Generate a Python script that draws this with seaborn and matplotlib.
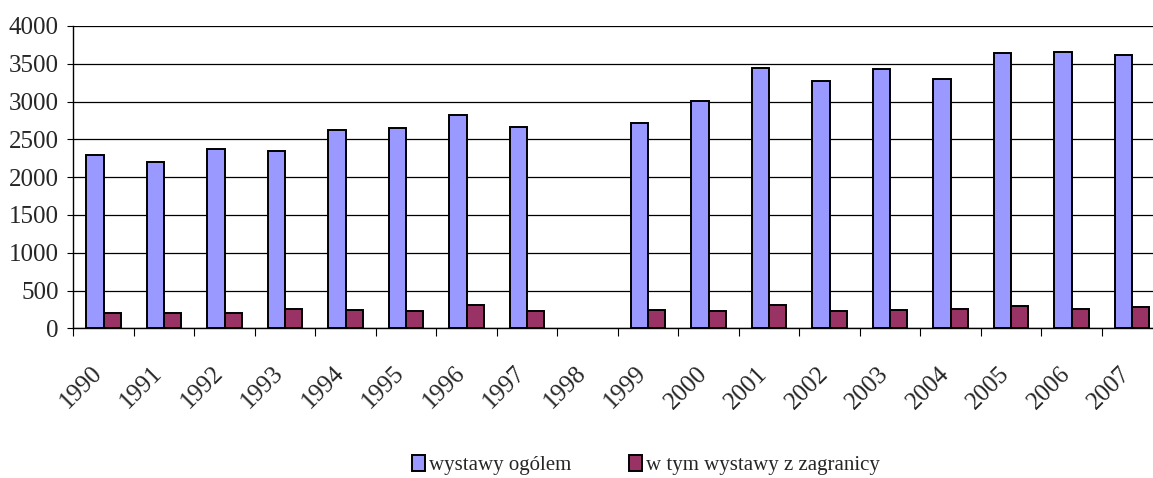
import numpy as np
import pandas as pd
import matplotlib
matplotlib.use('Agg')
import matplotlib.pyplot as plt
import matplotlib.transforms as mtransforms
from matplotlib.ticker import MultipleLocator, FixedLocator
import seaborn as sns

# data (1998: no data)
years = [1990, 1991, 1992, 1993, 1994, 1995, 1996, 1997, 1998,
         1999, 2000, 2001, 2002, 2003, 2004, 2005, 2006, 2007]
total = [2290, 2195, 2370, 2345, 2630, 2645, 2825, 2670, np.nan,
         2720, 3010, 3440, 3275, 3425, 3295, 3640, 3655, 3620]
foreign = [198, 206, 198, 250, 242, 225, 305, 225, np.nan,
           242, 229, 302, 229, 242, 258, 292, 258, 276]
series_names = ['wystawy ogólem', 'w tym wystawy z zagranicy']
colors = ['#9999FF', '#993366']

df = pd.DataFrame({
    'rok': [str(y) for y in years] * 2,
    'liczba': total + foreign,
    'seria': [series_names[0]] * len(years) + [series_names[1]] * len(years),
})

sns.set_style('white')
plt.rcParams['font.family'] = ['Liberation Serif', 'DejaVu Serif']

fig = plt.figure(figsize=(11.53, 4.78), dpi=100)
ax = fig.add_axes([73.3 / 1153, 1 - 328.3 / 478, 1089 / 1153, 302.3 / 478])

sns.barplot(data=df, x='rok', y='liczba', hue='seria',
            order=[str(y) for y in years], hue_order=series_names,
            palette=colors, width=0.575, edgecolor='black', linewidth=1.4,
            errorbar=None, saturation=1, ax=ax)

ax.set_ylim(0, 4000)
ax.set_xlim(-0.5, len(years) - 0.5)
ax.yaxis.set_major_locator(MultipleLocator(500))
ax.grid(axis='y', color='black', linewidth=0.9)
ax.grid(axis='x', visible=False)
ax.set_axisbelow(True)
ax.get_ygridlines()[-1].set_color('#808080')
ax.get_ygridlines()[-1].set_linewidth(1.4)

for side in ['top', 'right']:
    ax.spines[side].set_visible(False)
for side in ['left', 'bottom']:
    ax.spines[side].set_color('black')
    ax.spines[side].set_linewidth(1.0)

ax.set_xlabel('')
ax.set_ylabel('')
ax.tick_params(axis='y', which='major', direction='out', length=4.5,
               width=0.8, color='black', pad=6, labelsize=18, left=True)
ax.tick_params(axis='x', which='major', length=0, pad=30, labelsize=18)
ax.xaxis.set_minor_locator(FixedLocator(np.arange(-0.5, len(years), 1.0)))
ax.tick_params(axis='x', which='minor', direction='out', length=6,
               width=0.8, color='black', bottom=True)
shift = mtransforms.ScaledTranslation(-5 / 100, 0, fig.dpi_scale_trans)
for lbl in ax.get_xticklabels():
    lbl.set_rotation(45)
    lbl.set_ha('right')
    lbl.set_va('center')
    lbl.set_rotation_mode('anchor')
    lbl.set_transform(lbl.get_transform() + shift)

handles, labels = ax.get_legend_handles_labels()
ax.get_legend().remove()
fig.legend(handles, labels, loc='center', bbox_to_anchor=(646 / 1153, 1 - 465 / 478),
           ncol=2, frameon=False, fontsize=15, handlelength=0.6, handleheight=0.8,
           handletextpad=0.2, columnspacing=2.8)

fig.savefig('out.png', dpi=100)
